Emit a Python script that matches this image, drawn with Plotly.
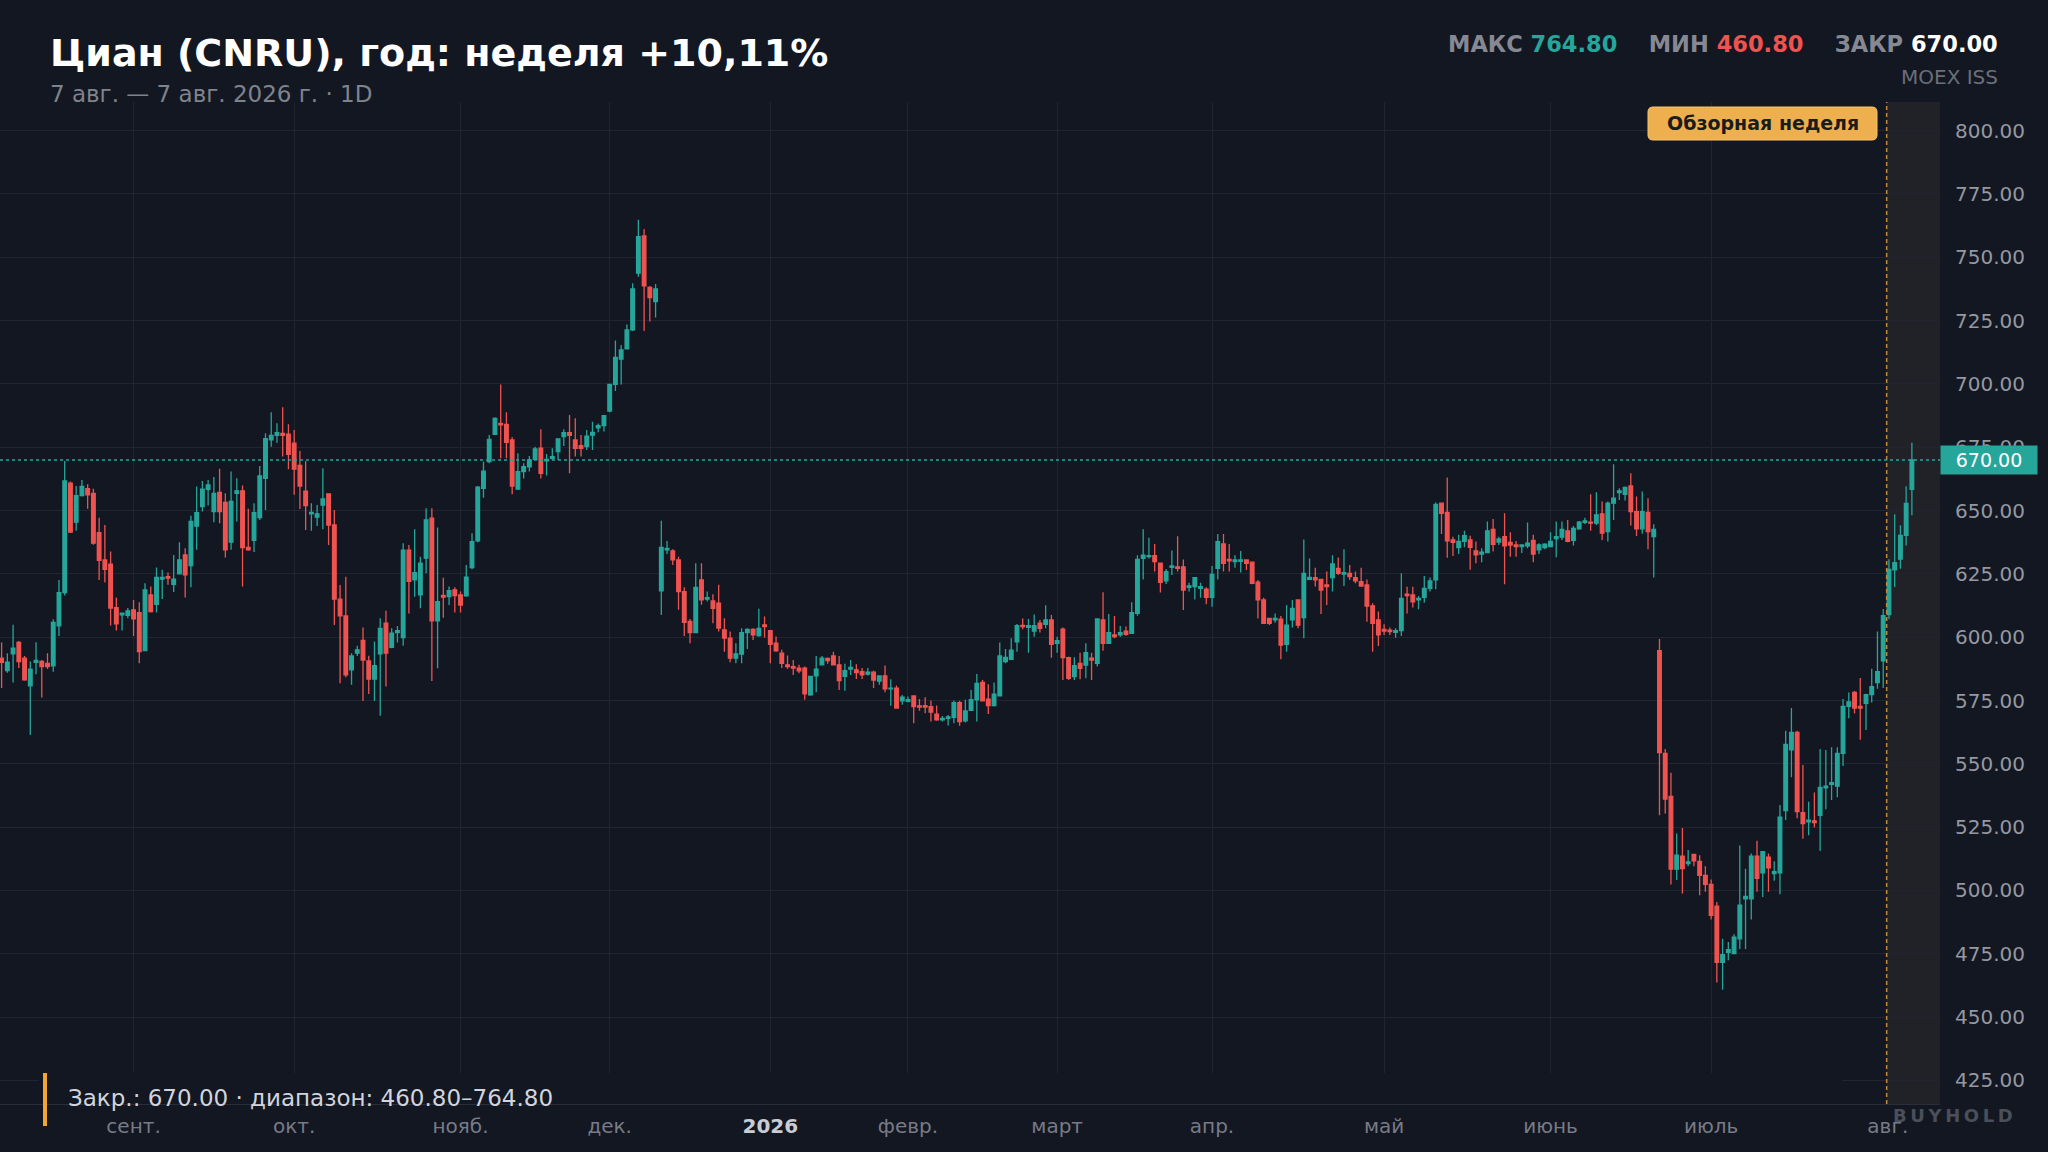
import plotly.graph_objects as go

W, H = 2048, 1152
PL, PR, PT, PB = 0, 1940, 102, 1104

opens = [591.7,586.8,593.4,597.9,591.7,580.8,590.1,590.4,589.7,588.7,604.5,617.6,660.8,645.4,655.9,658.6,656.8,641.3,630.5,628.8,
611.7,608.8,608.6,610.8,609.7,594.7,616.7,613.0,622.9,623.9,620.9,625.0,632.5,628.3,643.9,651.6,658.4,649.6,657.2,653.2,
637.5,656.8,657.8,635.5,638.2,647.2,662.7,677.9,679.7,680.5,680.2,676.6,667.8,657.7,648.7,647.4,652.2,656.6,644.3,615.0,
608.4,587.1,593.7,598.7,590.6,583.5,593.4,605.5,596.0,601.8,599.8,634.4,622.6,616.7,631.2,647.0,606.5,616.5,616.0,618.7,
616.7,616.3,627.5,638.0,658.8,669.3,680.1,684.4,684.0,677.9,658.5,665.4,667.3,670.2,674.6,669.6,670.6,673.3,679.2,680.8,
677.9,675.6,675.2,679.8,682.7,683.5,689.3,699.8,709.8,713.8,721.3,743.7,758.4,738.1,732.5,618.3,634.5,634.1,630.5,618.0,
606.2,601.8,622.6,615.0,614.3,613.4,602.9,599.6,591.7,593.3,601.8,603.1,600.6,604.9,602.6,597.6,593.7,589.1,588.4,587.8,
587.8,577.2,584.7,589.1,591.6,592.6,589.1,584.5,587.4,587.1,586.4,585.4,586.2,582.7,584.7,579.6,579.9,574.9,574.7,576.8,
572.9,573.0,572.6,569.6,567.4,568.0,568.4,574.2,567.0,571.1,575.3,582.2,575.5,573.0,576.8,590.4,591.3,598.2,604.7,603.9,
602.4,605.5,605.1,606.8,597.6,603.2,591.9,584.4,589.7,589.0,591.7,589.7,606.8,597.6,600.9,600.9,602.4,601.5,609.4,631.1,
631.8,632.2,629.2,622.2,627.6,627.8,627.8,619.7,620.0,619.3,619.0,615.7,627.2,636.8,630.7,629.8,629.9,630.5,629.6,621.7,
614.7,607.4,606.8,607.1,597.2,606.8,614.7,607.7,622.8,623.5,622.8,620.6,623.5,627.2,624.9,625.2,623.5,621.9,620.6,612.4,
606.8,603.1,602.8,601.9,602.6,617.0,616.7,614.7,615.7,619.3,622.6,652.9,649.3,638.4,635.4,637.8,638.4,634.1,632.8,633.4,
642.6,637.5,639.7,637.4,636.4,635.8,636.1,638.2,634.5,635.4,635.8,638.9,639.5,642.0,638.2,642.8,645.3,645.4,645.0,648.7,
641.7,652.9,657.1,656.4,659.7,649.6,642.8,649.3,639.7,594.7,554.1,537.1,508.4,513.6,510.6,514.2,511.5,506.0,502.4,493.8,
471.6,475.6,475.1,480.9,496.7,496.7,513.6,507.0,513.2,506.7,507.0,531.5,555.5,562.4,530.7,527.1,527.5,529.7,540.5,541.9,
541.2,554.1,572.7,578.2,572.7,573.9,577.3,582.1,590.7,608.9,626.6,630.8,640.2,658.4]

highs = [597.9,593.7,604.9,598.5,592.6,590.4,598.0,591.0,593.7,607.1,622.6,669.6,661.5,659.7,662.1,660.4,658.6,647.2,644.3,633.8,
615.7,609.5,611.5,614.7,613.8,621.3,620.0,627.5,626.6,625.5,632.5,637.5,635.1,647.9,659.5,661.7,662.1,663.2,666.5,656.8,
665.4,662.8,659.9,650.7,652.9,667.6,680.5,688.8,684.5,690.8,684.1,681.8,673.5,669.6,652.9,652.2,666.7,656.8,650.2,620.6,
623.9,593.7,596.6,603.8,592.7,598.3,607.5,610.4,603.5,604.4,637.1,636.4,642.6,631.8,650.9,650.9,643.3,623.5,620.0,619.7,
618.0,628.5,641.0,659.7,669.3,679.8,686.8,699.8,688.8,678.9,672.6,668.7,671.5,675.2,682.1,672.3,674.6,678.5,682.1,687.7,
686.4,679.8,681.8,685.1,684.4,687.7,699.8,717.1,715.4,723.5,739.7,764.8,761.2,738.7,739.4,646.0,638.0,634.7,631.8,619.7,
607.2,629.2,629.2,618.0,617.0,620.7,607.5,602.2,597.6,603.5,603.5,603.5,611.2,608.2,602.6,600.3,595.0,592.8,591.0,589.1,
588.4,584.7,592.6,592.6,592.0,594.3,592.6,589.5,591.0,589.3,587.8,587.8,586.8,584.9,588.8,583.4,580.9,577.2,576.6,576.8,
575.6,576.3,575.0,573.0,568.9,569.3,575.0,574.9,575.3,579.2,585.5,583.1,581.4,582.1,597.9,595.3,599.6,605.2,607.4,607.2,
609.0,606.8,612.6,608.8,600.2,603.8,592.3,592.1,593.9,597.6,593.9,607.2,617.7,609.2,608.4,604.4,604.2,613.8,632.4,642.6,
639.3,636.8,629.2,626.9,634.2,639.9,630.7,621.5,623.6,621.5,619.7,628.1,640.7,640.7,636.8,632.4,634.0,630.7,629.8,622.6,
615.6,607.4,609.4,608.4,612.7,614.7,614.7,638.6,631.1,627.4,622.8,625.9,632.4,631.5,634.7,628.5,625.9,627.4,622.8,613.4,
610.1,605.1,603.8,603.5,625.2,619.9,619.9,616.3,624.2,623.6,653.2,652.9,663.0,639.7,640.4,642.0,640.1,637.8,635.1,645.7,
646.7,639.7,648.9,641.4,638.0,636.4,645.3,640.4,637.1,637.1,641.4,645.7,645.7,646.3,643.9,645.9,647.2,656.4,657.2,653.6,
653.6,668.3,658.8,659.5,664.7,655.5,657.5,654.9,644.6,599.3,555.9,546.5,522.5,524.7,516.0,514.2,513.9,509.6,504.3,495.5,
480.9,479.7,482.7,517.8,508.6,514.6,519.6,515.6,514.6,511.5,533.7,563.1,572.0,563.1,549.5,535.0,538.7,555.9,555.5,556.5,
556.5,575.6,578.2,578.8,583.9,577.7,587.5,602.2,611.1,630.8,648.5,644.2,659.6,676.8]

lows = [579.9,586.0,582.1,587.8,582.8,561.4,585.4,576.2,587.4,586.4,600.5,616.5,641.1,642.0,655.5,650.7,636.5,622.6,621.6,604.6,
602.6,602.6,607.5,600.5,589.7,594.7,609.7,609.7,615.1,620.7,617.8,625.0,615.7,619.7,634.5,649.6,652.0,645.4,645.0,631.5,
634.5,645.7,620.0,634.1,633.6,646.3,650.2,675.2,676.8,671.3,666.3,656.2,650.6,642.3,642.0,643.9,642.6,636.4,604.8,581.8,
584.2,581.2,592.6,574.8,577.6,574.8,569.0,580.5,595.6,597.9,596.6,609.4,616.0,611.4,625.2,582.7,587.7,607.7,612.7,609.7,
609.7,616.0,626.8,637.5,655.1,668.7,679.8,670.6,670.6,656.4,658.1,662.7,665.4,670.0,662.7,663.8,670.0,670.0,675.5,664.7,
671.3,671.3,673.9,673.9,680.9,681.2,688.8,697.2,699.8,713.8,720.9,742.3,720.9,724.6,726.2,608.8,632.8,628.5,610.8,600.5,
597.6,601.8,612.8,614.1,605.5,602.2,594.3,590.1,589.7,589.7,595.3,598.9,600.2,599.9,589.7,594.3,587.8,587.5,585.1,585.8,
575.3,576.9,578.3,588.8,589.5,588.8,579.2,578.9,585.1,583.5,583.5,584.9,579.9,581.2,578.3,572.9,571.7,573.3,574.3,566.0,
571.0,570.0,566.7,567.0,566.7,565.1,566.0,565.0,566.3,570.9,566.7,574.6,569.7,572.6,576.6,589.7,591.0,594.3,603.1,593.9,
600.2,601.9,603.5,591.9,593.9,583.1,583.1,583.1,583.4,583.8,583.1,588.4,594.6,597.3,599.6,600.2,600.6,601.5,608.5,622.8,
631.1,625.9,617.6,621.0,624.6,625.9,610.7,618.0,614.9,615.6,613.0,612.0,622.8,625.9,625.9,627.4,625.5,626.5,620.9,607.4,
605.2,604.8,605.7,591.3,594.3,603.8,603.5,599.6,622.6,620.0,609.2,612.7,618.0,624.6,620.2,622.6,621.3,620.0,606.1,594.3,
596.5,600.9,600.9,599.8,600.5,609.4,611.7,611.0,613.6,618.0,618.9,640.7,631.4,632.1,632.8,635.5,626.6,629.2,629.6,633.4,
633.8,636.4,620.9,631.8,631.8,633.2,635.1,629.6,632.8,634.7,635.5,631.6,638.4,637.5,636.2,642.4,644.7,642.0,644.3,638.4,
637.8,646.3,654.2,654.0,644.1,640.0,640.8,634.7,623.6,529.7,530.4,502.4,504.1,498.8,509.6,509.6,498.1,499.5,488.5,463.7,
460.8,472.5,474.8,476.9,476.9,488.5,499.5,497.4,499.5,503.8,498.5,527.8,544.7,528.5,520.4,521.8,524.9,515.6,532.1,535.7,
536.8,549.1,568.0,569.9,559.5,563.4,574.2,579.6,579.9,607.2,619.8,627.0,636.2,648.1]

closes = [590.1,590.1,595.7,590.4,583.2,587.4,590.8,588.4,588.4,605.8,617.6,661.7,641.5,655.9,659.5,656.2,637.1,630.3,626.8,611.5,
605.3,609.5,610.4,607.2,594.3,618.7,610.1,623.6,623.6,623.3,622.9,630.5,624.6,645.7,649.2,658.4,660.1,656.8,649.6,634.5,
653.6,657.8,635.4,634.5,649.2,663.7,678.4,679.7,680.8,679.7,672.2,666.4,659.7,652.0,649.3,648.7,654.6,644.3,615.0,608.4,
585.1,592.6,595.0,591.0,583.5,588.8,603.5,593.7,601.6,602.6,634.4,622.0,625.5,629.2,646.3,606.5,614.0,615.8,618.4,616.4,
612.7,623.7,637.7,659.2,665.6,678.1,686.4,683.8,676.9,659.7,665.4,667.3,670.0,674.3,664.7,670.2,671.3,678.3,680.8,679.7,
674.6,674.6,679.4,680.9,683.5,687.5,699.8,710.5,713.4,721.3,737.5,758.1,738.7,734.1,737.5,635.5,635.1,630.5,618.0,605.9,
601.8,619.7,614.7,615.6,611.4,603.6,599.6,591.7,593.4,601.8,603.1,600.9,603.5,604.2,597.2,594.6,589.7,588.4,587.8,586.7,
577.6,584.5,587.4,591.7,590.8,589.1,582.9,586.8,588.1,586.0,585.1,586.2,583.1,584.7,579.6,579.9,572.0,576.3,575.3,572.6,
572.4,572.4,570.4,567.4,567.9,568.5,574.2,566.7,570.9,575.3,581.8,574.9,573.0,577.5,592.6,592.0,594.9,604.6,604.2,604.6,
604.6,603.5,606.8,597.2,598.6,591.9,583.8,588.8,587.7,593.9,591.0,607.2,597.6,601.8,600.2,601.8,601.1,609.7,630.7,632.4,
632.2,629.8,621.7,625.9,628.1,627.2,618.6,620.3,623.5,620.0,615.7,624.8,637.7,629.2,630.1,630.5,630.5,629.2,621.3,614.7,
605.5,605.5,607.4,596.9,604.8,611.4,604.8,625.2,623.6,622.6,618.6,620.0,628.9,625.2,625.5,623.9,622.2,620.2,612.3,605.5,
600.9,602.4,602.2,602.6,615.3,616.4,614.0,615.3,619.3,622.2,652.4,648.9,638.0,637.4,637.8,640.1,635.5,632.5,633.6,642.0,
636.7,638.8,636.1,636.4,635.8,636.4,637.1,632.8,636.4,636.7,637.8,639.7,642.6,637.8,643.0,645.4,645.9,645.0,648.3,641.1,
652.9,654.9,657.8,659.1,649.6,642.8,649.6,641.7,642.6,554.4,536.1,508.4,513.9,508.6,511.3,511.7,506.0,502.4,490.2,471.6,
474.7,476.6,481.6,494.2,497.7,513.6,504.8,515.3,508.9,507.4,529.0,557.7,562.4,531.1,526.4,527.8,526.8,540.7,541.2,542.6,
554.1,572.7,574.5,572.0,572.0,577.3,580.5,586.4,608.5,626.8,629.4,640.2,652.8,670.0]

tick_idx = [23, 51, 80, 106, 134, 158, 184, 211, 241, 270, 298, 328.8]
tick_text = ["сент.", "окт.", "нояб.", "дек.", "<b><span style='color:#c9ccd4'>2026</span></b>",
             "февр.", "март", "апр.", "май", "июнь", "июль", "авг."]
y_ticks = [425, 450, 475, 500, 525, 550, 575, 600, 625, 650, 675, 700, 725, 750, 775, 800]
y_labels = ["%.2f" % v for v in y_ticks]

last_close = 670.0
week_start = 328.6
x_range = [-0.28, 337.9]
y_range = [415.7, 811.3]

BG = "#131722"
UP = "#26a69a"
DOWN = "#ef5350"
FONT = "DejaVu Sans"


def px(x):
    return (x - PL) / (PR - PL)


def py(y):
    return (PB - y) / (PB - PT)


xs = list(range(len(opens)))

fig = go.Figure()
fig.add_trace(go.Candlestick(
    x=xs, open=opens, high=highs, low=lows, close=closes,
    increasing=dict(line=dict(color=UP, width=1.3), fillcolor=UP),
    decreasing=dict(line=dict(color=DOWN, width=1.3), fillcolor=DOWN),
    whiskerwidth=0, showlegend=False, hoverinfo="skip",
))

shapes = [
    dict(type="rect", xref="x", yref="paper", x0=week_start, x1=x_range[1], y0=0, y1=1,
         fillcolor="rgba(200,170,120,0.08)", line=dict(width=0), layer="below"),
    dict(type="line", xref="x", yref="paper", x0=week_start, x1=week_start, y0=0, y1=1,
         line=dict(color="#c28a35", width=1.5, dash="4px,3px"), layer="above"),
    dict(type="line", xref="paper", yref="y", x0=0, x1=1, y0=last_close, y1=last_close,
         line=dict(color=UP, width=1.5, dash="3px,3px"), layer="above"),
    dict(type="rect", xref="paper", yref="paper", x0=px(39), x1=px(1842), y0=py(1104), y1=py(1073),
         fillcolor=BG, line=dict(width=0), layer="above"),
    dict(type="rect", xref="paper", yref="paper", x0=px(43), x1=px(47), y0=py(1126), y1=py(1073),
         fillcolor="#f0a830", line=dict(width=0), layer="above"),
]

bx0, bx1, by0, by1, r = 1648, 1877, 107, 140, 5
path = (f"M {px(bx0 + r)} {py(by0)} L {px(bx1 - r)} {py(by0)} Q {px(bx1)} {py(by0)} {px(bx1)} {py(by0 + r)} "
        f"L {px(bx1)} {py(by1 - r)} Q {px(bx1)} {py(by1)} {px(bx1 - r)} {py(by1)} "
        f"L {px(bx0 + r)} {py(by1)} Q {px(bx0)} {py(by1)} {px(bx0)} {py(by1 - r)} "
        f"L {px(bx0)} {py(by0 + r)} Q {px(bx0)} {py(by0)} {px(bx0 + r)} {py(by0)} Z")
shapes.append(dict(type="path", xref="paper", yref="paper", path=path,
                   fillcolor="#eeb04e", line=dict(color="#f5c46a", width=1), layer="above"))

nb = "\u00a0"
stats = (f"<b><span style='color:#868993'>МАКС</span>{nb}<span style='color:{UP}'>764.80</span>{nb*4}"
         f"<span style='color:#868993'>МИН</span>{nb}<span style='color:{DOWN}'>460.80</span>{nb*4}"
         f"<span style='color:#868993'>ЗАКР</span>{nb}<span style='color:#ffffff'>670.00</span></b>")

annotations = [
    dict(text="<b>Циан (CNRU), год: неделя +10,11%</b>", xref="paper", yref="paper",
         x=px(48), y=py(53), xanchor="left", yanchor="middle", showarrow=False,
         font=dict(size=38, color="#ffffff", family=FONT)),
    dict(text="7 авг. — 7 авг. 2026 г. · 1D", xref="paper", yref="paper",
         x=px(48), y=py(94), xanchor="left", yanchor="middle", showarrow=False,
         font=dict(size=23, color="#7f838c", family=FONT)),
    dict(text=stats, xref="paper", yref="paper", x=px(2000), y=py(44), xanchor="right", yanchor="middle",
         showarrow=False, font=dict(size=22.5, family=FONT)),
    dict(text="MOEX ISS", xref="paper", yref="paper", x=px(2000), y=py(77), xanchor="right", yanchor="middle",
         showarrow=False, font=dict(size=20, color="#6b6f78", family=FONT)),
    dict(text="<b>Обзорная неделя</b>", xref="paper", yref="paper", x=px((bx0 + bx1) / 2), y=py((by0 + by1) / 2),
         xanchor="center", yanchor="middle", showarrow=False, font=dict(size=19, color="#1b1b1b", family=FONT)),
    dict(text="670.00", xref="paper", yref="y", x=1.0, y=last_close, xanchor="left", yanchor="middle",
         showarrow=False, bgcolor=UP, borderpad=4, width=88, height=20,
         font=dict(size=19, color="#ffffff", family=FONT)),
    dict(text="Закр.: 670.00 · диапазон: 460.80–764.80", xref="paper", yref="paper",
         x=px(66), y=py(1098), xanchor="left", yanchor="middle", showarrow=False,
         font=dict(size=23, color="#d1d4dc", family=FONT)),
    dict(text="<b>B\u2009U\u2009Y\u2009H\u2009O\u2009L\u2009D</b>", xref="paper", yref="paper",
         x=px(2015), y=py(1115), xanchor="right", yanchor="middle", showarrow=False,
         font=dict(size=18, color="#4a4f59", family=FONT)),
]

fig.update_layout(
    width=W, height=H,
    margin=dict(l=PL, r=W - PR, t=PT, b=H - PB),
    paper_bgcolor=BG, plot_bgcolor=BG,
    font=dict(family=FONT, color="#9598a1"),
    showlegend=False,
    boxgap=0.37, boxgroupgap=0,
    shapes=shapes, annotations=annotations,
    hovermode=False,
    xaxis=dict(range=x_range, tickmode="array", tickvals=tick_idx, ticktext=tick_text,
               tickfont=dict(size=20, color="#787b86", family=FONT), showgrid=True,
               gridcolor="#222530", gridwidth=1.3, zeroline=False, showline=True, linecolor="#2a2e39",
               rangeslider=dict(visible=False), ticks="", ticklabelstandoff=4, fixedrange=True),
    yaxis=dict(range=y_range, side="right", tickmode="array", tickvals=y_ticks, ticktext=y_labels,
               tickfont=dict(size=20, color="#9598a1", family=FONT), showgrid=True,
               gridcolor="#222530", gridwidth=1.3, zeroline=False, showline=False, ticks="",
               ticklabelstandoff=14, fixedrange=True),
)

fig.write_html("out.html", config={"displayModeBar": False},
               post_script="document.body.style.margin='0';document.body.style.overflow='hidden';")
